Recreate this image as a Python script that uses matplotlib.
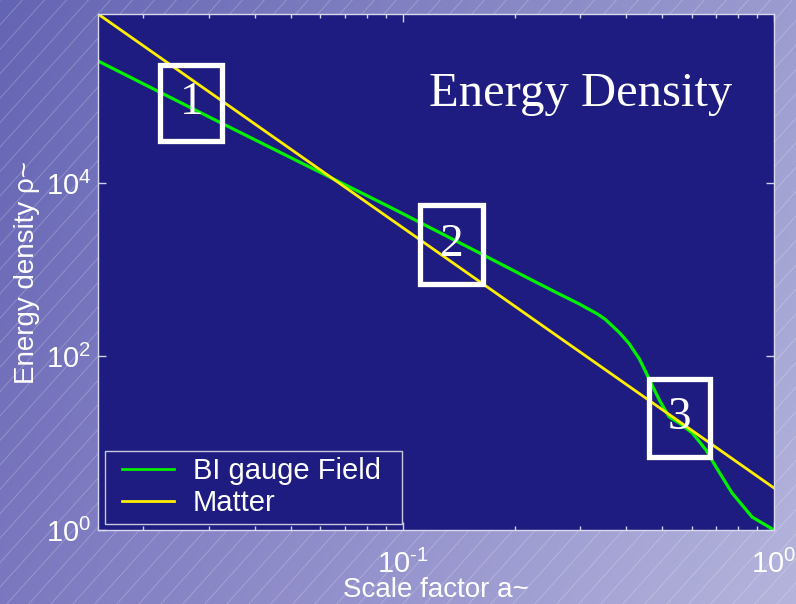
import numpy as np
import matplotlib
matplotlib.use("Agg")
import matplotlib.pyplot as plt
from matplotlib.patches import Rectangle

# scale factor / energy density
a_field = [0.0151, 0.03, 0.0923, 0.161, 0.219, 0.264, 0.299, 0.318, 0.333,
           0.350, 0.367, 0.384, 0.407, 0.434, 0.461, 0.491, 0.522,
           0.556, 0.603, 0.656, 0.698, 0.771, 0.873, 0.989]
rho_field = [2.55e5, 5.8e4, 5280, 1560, 789, 525, 403, 348, 313,
             271, 225, 187, 141, 93.5, 55.1, 31.5, 20.1,
             17.1, 13.1, 8.36, 5.32, 2.67, 1.41, 1.03]
a_matter = [0.0151, 1.0]
rho_matter = [8.87e5, 3.05]

xticks = [0.1, 1.0]
xticklabels = ["$10^{\\text{-1}}$", "$10^{0}$"]
yticks = [1.0, 1e2, 1e4]
yticklabels = ["$10^{0}$", "$10^{2}$", "$10^{4}$"]

plt.rcParams["font.family"] = "Liberation Sans"
plt.rcParams["mathtext.fontset"] = "custom"
plt.rcParams["mathtext.rm"] = "Liberation Sans"
plt.rcParams["mathtext.it"] = "Liberation Sans:italic"
plt.rcParams["mathtext.bf"] = "Liberation Sans:bold"

W, H = 796, 604
fig = plt.figure(figsize=(W / 100, H / 100), dpi=100)

# slide background: gradient plus faint diagonal hatching
bg = fig.add_axes([0, 0, 1, 1], zorder=-10)
tl = np.array([100, 100, 180]) / 255
tr = np.array([156, 156, 208]) / 255
bl = np.array([124, 120, 192]) / 255
br = np.array([180, 180, 220]) / 255
u = np.linspace(0, 1, 200)[None, :, None]
v = np.linspace(0, 1, 150)[:, None, None]
img = (1 - v) * ((1 - u) * tl + u * tr) + v * ((1 - u) * bl + u * br)
bg.imshow(img, extent=[0, W, H, 0], aspect="auto")
for c in np.arange(-H * 1.3, W + 40, 22):
    bg.plot([c, c + H * 0.9], [H, 0], color="white", lw=0.6, alpha=0.25)
bg.set_xlim(0, W)
bg.set_ylim(H, 0)
bg.axis("off")

ax = fig.add_axes([98 / W, (H - 530) / H, 676 / W, 516 / H])
ax.set_facecolor("#1e1c80")

ax.plot(a_field, rho_field, color="#00f000", lw=2.3, label="BI gauge Field")
ax.plot(a_matter, rho_matter, color="#ffee00", lw=2.0, label="Matter")

ax.set_xscale("log")
ax.set_yscale("log")
ax.set_xlim(0.0151, 1.0)
ax.set_ylim(1.0, 8.87e5)

ax.set_xticks(xticks)
ax.set_xticklabels(xticklabels)
ax.set_yticks(yticks)
ax.set_yticklabels(yticklabels)
ax.yaxis.set_minor_locator(matplotlib.ticker.NullLocator())

tc = "#d0d0e8"
ax.tick_params(which="both", direction="in", top=True, right=True,
               colors=tc, labelcolor="white", labelsize=21)
ax.tick_params(which="major", length=6, width=1, pad=5)
ax.tick_params(axis="x", which="major", pad=14)
ax.tick_params(which="minor", length=3, width=1)
for s in ax.spines.values():
    s.set_color("#d8d8ee")
    s.set_linewidth(1)

ax.set_xlabel("Scale factor a~", color="white", fontsize=20, labelpad=-1)
ax.set_ylabel("Energy density ρ~", color="white", fontsize=20, labelpad=4)

ax.text(0.938, 0.822, "Energy Density", transform=ax.transAxes,
        ha="right", va="baseline", color="white", fontsize=35,
        family="Liberation Serif")

# numbered boxes
boxes = [(0.092, 0.754, 0.092, 0.148, "1"),
         (0.477, 0.477, 0.092, 0.152, "2"),
         (0.815, 0.142, 0.090, 0.150, "3")]
for x0, y0, w, h, lab in boxes:
    ax.add_patch(Rectangle((x0, y0), w, h, transform=ax.transAxes,
                           fill=False, ec="white", lw=3.8, zorder=5))
    ax.text(x0 + w / 2, y0 + h / 2, lab, transform=ax.transAxes,
            ha="center", va="center", color="white", fontsize=34,
            family="Liberation Serif", zorder=6)

# legend frame drawn separately so it can be wider than the entries
ax.add_patch(Rectangle((0.0104, 0.0116), 0.4393, 0.1415,
                       transform=ax.transAxes, fc="#1e1c80", ec="#c8c8e0",
                       lw=1, zorder=7))
leg = ax.legend(loc="center left", bbox_to_anchor=(0.0355, 0.0833),
                borderaxespad=0, borderpad=0, fontsize=21, frameon=False,
                handlelength=1.8, handletextpad=0.62, labelspacing=0.155)
leg.set_zorder(8)
for t in leg.get_texts():
    t.set_color("white")
for l in leg.get_lines():
    l.set_linewidth(2)

fig.savefig("out.png", dpi=100)
